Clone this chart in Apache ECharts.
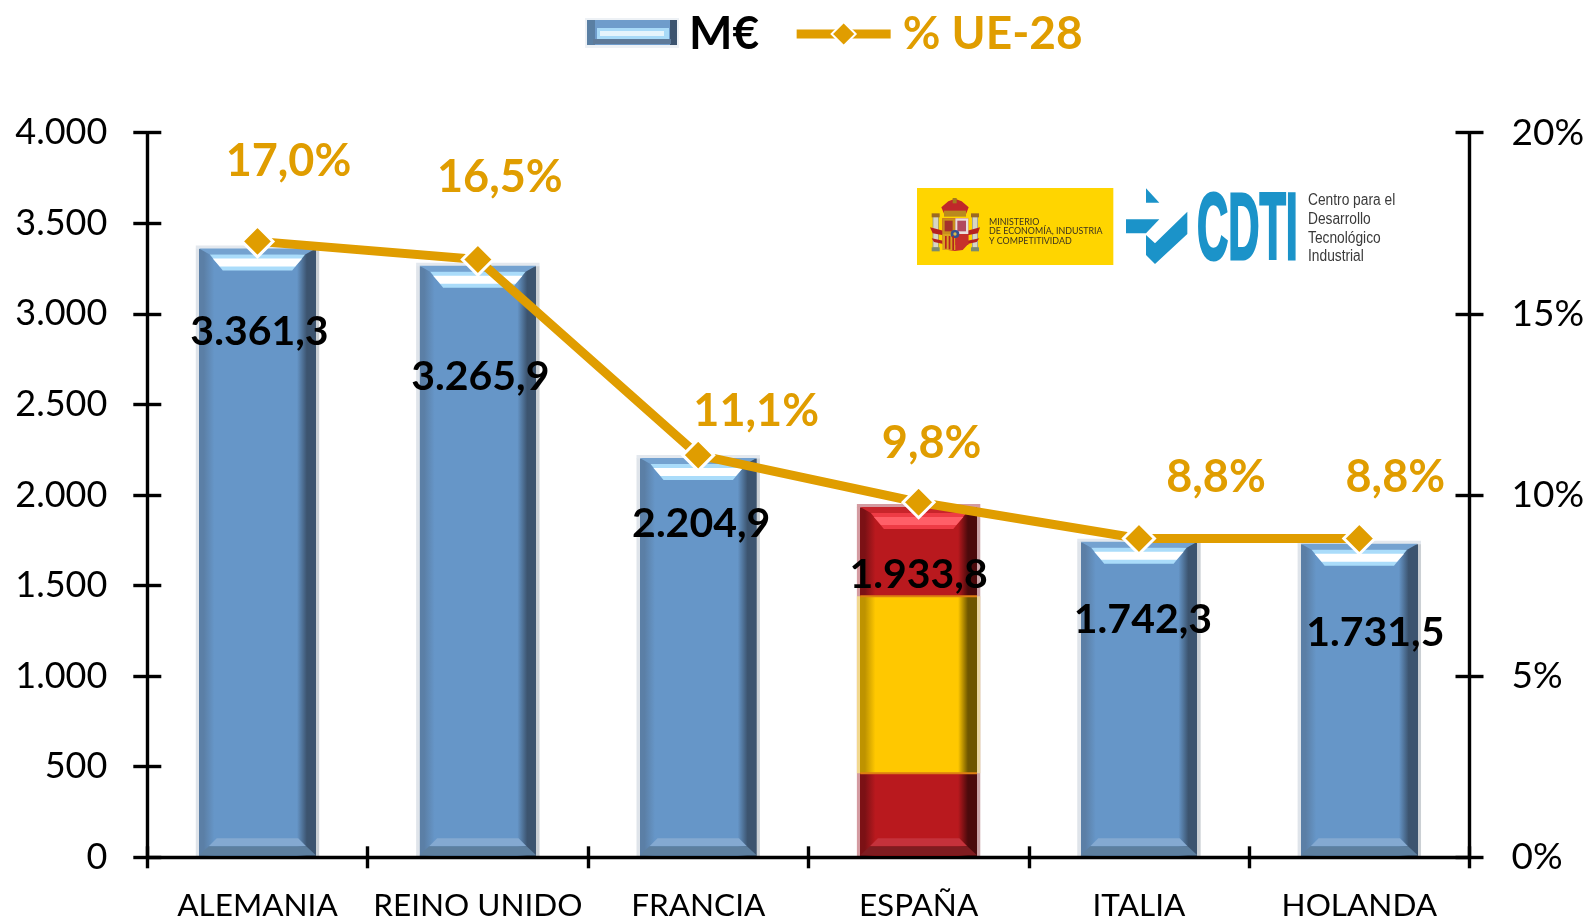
<!DOCTYPE html>
<html><head><meta charset="utf-8">
<style>html,body{margin:0;padding:0;background:#fff}#c{width:1589px;height:921px}</style>
<script src="https://cdn.jsdelivr.net/npm/echarts@6/dist/echarts.min.js"></script>
</head><body><div id="c"></div>
<script>
const categories = ['ALEMANIA','REINO UNIDO','FRANCIA','ESPAÑA','ITALIA','HOLANDA'];
const millions = [3361.3,3265.9,2204.9,1933.8,1742.3,1731.5];
const shares = [17.0,16.5,11.1,9.8,8.8,8.8];
const leftTicks = [0,500,1000,1500,2000,2500,3000,3500,4000];
const flagBand = [0.24,0.745];
const highlightIndex = 3;
const barLabelShift = [[2,83],[2.5,111],[3,66],[0,68],[4,78],[16,89]];
const lineLabelShift = [[31,-80],[22,-82],[58,-44],[13,-59],[77,-61],[36,-61]];

const GOLD='#E09D00', FONT='Lato', NARROW='"Liberation Sans"';
const G=(stops)=>new echarts.graphic.LinearGradient(0,0,1,0,stops.map(s=>({offset:s[0],color:s[1]})));
function side(pl,dl,body,dr,pr){return G([[0,pl],[.027,pl],[.028,dl],[.065,dl],[.15,body],[.82,body],[.90,dr],[.972,dr],[.973,pr],[1,pr]]);}
const blueSide=side('#DFE4EA','#5B7FA6','#6696C8','#3C546F','#CBD0D4');
const redSide=side('#D49BA1','#7C1115','#B9191E','#4B0A0C','#C9A3A8');
const yellowSide=side('#F2D88E','#BE9300','#FFC800','#6E5600','#E9D6A2');
const fmtNum=v=>{const p=v.toFixed(1).split('.');return p[0].replace(/\B(?=(\d{3})+$)/g,'.')+','+p[1];};

function renderBevel(params,api){
  const i=api.value(0),val=api.value(1),top=api.coord([i,val]),base=api.coord([i,0]);
  const w=api.size([1,0])[0]*0.56,l=top[0]-w/2,r=top[0]+w/2,y=top[1],y0=base[1];
  const red=i===highlightIndex;
  const c=red?{pale:'#D49BA1',rim:'#C8252B',hl:'#EE3B45',wh:'#FF5F68',bl:'#C5323B',bd:'#7F1C20'}
             :{pale:'#E3E8EE',rim:'#74A2D0',hl:'#AADCFA',wh:'#FFFFFF',bl:'#84A9D1',bd:'#5D7F9F'};
  const poly=(pts,fill)=>({type:'polygon',shape:{points:pts},style:{fill}});
  const kids=[];
  kids.push({type:'rect',shape:{x:l,y:y-3,width:w,height:3.5},style:{fill:c.pale}});
  kids.push(poly([[l+3.3,y],[r-3.3,y],[r-14,y+6],[l+14,y+6]],c.rim));
  kids.push(poly([[l+14,y+6],[r-14,y+6],[r-27,y+22],[l+27,y+22]],c.hl));
  kids.push(poly([[l+17,y+10],[r-17,y+10],[r-24,y+18],[l+24,y+18]],c.wh));
  kids.push(poly([[l+21,y0-19],[r-21,y0-19],[r-13,y0-11],[l+13,y0-11]],c.bl));
  kids.push(poly([[l+13,y0-11],[r-13,y0-11],[r-3.3,y0-2],[l+3.3,y0-2]],c.bd));
  if(red){
    const a=api.coord([i,val*flagBand[0]])[1],b=api.coord([i,val*flagBand[1]])[1];
    kids.push({type:'rect',shape:{x:l,y:b,width:w,height:a-b},style:{fill:yellowSide}});
    kids.push({type:'rect',shape:{x:l+3.3,y:b-1,width:w-6.6,height:2},style:{fill:'#DE7F12'}});
    kids.push({type:'rect',shape:{x:l+3.3,y:a-1,width:w-6.6,height:2},style:{fill:'#DE7F12'}});
  }
  const s=barLabelShift[i];
  kids.push({type:'text',style:{text:fmtNum(val),x:top[0]+s[0],y:y+s[1],align:'center',verticalAlign:'middle',font:'bold 41px '+FONT,fill:'#000'}});
  return {type:'group',children:kids};
}

/* logo helpers: coordinates measured in the logo's own space */
const lx=X=>900+X/3, ly=Y=>170+Y/3;
const poly=(pts,fill)=>({type:'polygon',shape:{points:pts.map(p=>[lx(p[0]),ly(p[1])])},style:{fill},z:50});
const box=(X0,Y0,X1,Y1,fill,r)=>({type:'rect',shape:{x:lx(X0),y:ly(Y0),width:(X1-X0)/3,height:(Y1-Y0)/3,r:r||0},style:{fill},z:50});
const txt=(t,x,y,font,fill,extra)=>Object.assign({type:'text',x,y,style:{text:t,font,fill,verticalAlign:'middle'},z:51},extra||{});
const logo=[
  box(51,54,640,285,'#FFD500'),
  // coat of arms
  box(98,135,116,242,'#8A8F80'),box(216,135,234,242,'#8A8F80'),
  box(100,140,114,232,'#D8D6C4'),box(218,140,232,232,'#D8D6C4'),
  box(95,232,119,244,'#7C8A6E'),box(213,232,237,244,'#7C8A6E'),
  box(95,130,119,142,'#9C6A22'),box(213,130,237,142,'#9C6A22'),
  poly([[90,172],[130,182],[130,196],[98,190]],'#B5221F'),poly([[240,172],[202,182],[202,196],[234,190]],'#B5221F'),
  poly([[95,205],[130,212],[130,222],[102,216]],'#B5221F'),poly([[238,205],[202,212],[202,222],[230,216]],'#B5221F'),
  poly([[124,112],[145,94],[165,86],[185,94],[206,112],[196,138],[135,138]],'#C0282A'),
  box(132,122,198,140,'#B98A1E'),box(158,84,170,100,'#A37A1E'),
  poly([[127,145],[205,145],[205,222],[188,240],[165,243],[144,240],[127,222]],'#C6302B'),
  box(127,145,166,192,'#C9901C'),box(166,145,205,192,'#E8DEDC'),
  box(127,192,166,240,'#D9A21E'),box(166,192,205,225,'#C6302B'),
  box(172,152,198,184,'#B2495E'),box(134,152,158,184,'#A5332B'),
  box(152,180,178,204,'#34508F',12),box(160,187,170,197,'#D8B84A',5),
  box(135,198,140,236,'#B5221F'),box(146,198,151,238,'#B5221F'),box(157,198,162,240,'#B5221F'),
  // ministry text
  txt('MINISTERIO',989,221.8,'8.9px '+FONT,'#3C3320'),
  txt('DE ECONOMÍA, INDUSTRIA',989,231.2,'8.9px '+FONT,'#3C3320'),
  txt('Y COMPETITIVIDAD',989,240.8,'8.9px '+FONT,'#3C3320'),
  // CDTI mark
  poly([[738,55],[778,98],[738,98]],'#1B93C9'),
  poly([[678,148],[778,148],[738,190],[678,190]],'#1B93C9'),
  poly([[738,195],[765,220],[862,125],[862,192],[765,282],[738,255]],'#1B93C9'),
  {type:'text',x:1197,y:233,scaleX:0.46,style:{text:'CDTI',font:'bold 94px '+NARROW,fill:'#1B93C9',stroke:'#1B93C9',lineWidth:3,verticalAlign:'middle'},z:51},
  txt('Centro para el',1308,201,'16px '+NARROW,'#3A3A3A',{scaleX:.86}),
  txt('Desarrollo',1308,219.5,'16px '+NARROW,'#3A3A3A',{scaleX:.86}),
  txt('Tecnológico',1308,238.5,'16px '+NARROW,'#3A3A3A',{scaleX:.86}),
  txt('Industrial',1308,256.5,'16px '+NARROW,'#3A3A3A',{scaleX:.86})
];
const rc=(x,y,w,h,fill)=>({type:'rect',shape:{x,y,width:w,height:h},style:{fill},z:60});
const legendBevel=[
  rc(585,18,94,30,'#EDF1F5'),rc(587,20,90,25,'#6F9CCB'),
  rc(587,20,8,25,'#5A7FA3'),rc(670,20,7,25,'#3C546F'),
  rc(597,28,72,11,'#A9DAF8'),rc(600,31,64,5,'#E6F4FC'),
  rc(593,39,78,5,'#5E7A99')
];

const yBase={type:'value',min:0,max:4000,interval:500,splitLine:{show:false},z:5};
const yBase2={type:'value',min:0,max:20,interval:5,splitLine:{show:false},z:5};
const lineSty={show:true,lineStyle:{color:'#000',width:3.4}};
const tickOut=(len)=>({show:true,length:len,inside:false,lineStyle:{color:'#000',width:3.4}});
const tickIn=(len)=>({show:true,length:len,inside:true,lineStyle:{color:'#000',width:3.4}});
const option={
  animation:false,
  textStyle:{fontFamily:FONT},
  grid:{left:147.3,right:119.5,top:132.7,bottom:63.7,containLabel:false,outerBoundsMode:'none'},
  legend:{left:585,top:6,itemWidth:94,itemHeight:30,itemGap:33,selectedMode:false,
    lineStyle:{width:9},
    textStyle:{fontFamily:FONT,fontWeight:'bold',fontSize:46},
    data:[{name:'M€',textStyle:{color:'#000',padding:[0,0,0,0]},itemStyle:{color:'rgba(0,0,0,0)'}},
          {name:'% UE-28',textStyle:{color:GOLD,padding:[0,0,0,7]}}]},
  xAxis:[
    {type:'category',data:categories,axisLine:lineSty,axisTick:tickOut(11),z:5,
      axisLabel:{color:'#000',fontSize:31.5,margin:33,interval:0,fontFamily:FONT}},
    {type:'category',data:categories,position:'bottom',axisLine:{show:false},axisTick:tickIn(11),axisLabel:{show:false},z:5}
  ],
  yAxis:[
    Object.assign({},yBase,{position:'left',axisLine:lineSty,axisTick:tickOut(14),
      axisLabel:{color:'#000',fontSize:36,margin:40,padding:[2,0,0,0],fontFamily:FONT,formatter:v=>leftTicks.includes(v)?(v>=1000?String(v).replace(/\B(?=(\d{3})+$)/g,'.'):String(v)):''}}),
    Object.assign({},yBase2,{position:'right',axisLine:lineSty,axisTick:tickOut(14),
      axisLabel:{color:'#000',fontSize:37,margin:42,padding:[2,0,0,0],fontFamily:FONT,formatter:v=>v+'%'}}),
    Object.assign({},yBase,{position:'left',axisLine:{show:false},axisTick:tickIn(14),axisLabel:{show:false}}),
    Object.assign({},yBase2,{position:'right',axisLine:{show:false},axisTick:tickIn(14),axisLabel:{show:false}})
  ],
  series:[
    {name:'M€',type:'bar',yAxisIndex:0,xAxisIndex:0,barWidth:'56%',z:2,
      data:millions.map((v,i)=>({value:v,itemStyle:{color:i===highlightIndex?redSide:blueSide}}))},
    {name:'bevel',type:'custom',yAxisIndex:0,xAxisIndex:0,z:3,renderItem:renderBevel,
      encode:{x:0,y:1},data:millions.map((v,i)=>[i,v])},
    {name:'% UE-28',type:'line',yAxisIndex:1,xAxisIndex:0,z:10,symbol:'diamond',symbolSize:31,
      lineStyle:{color:GOLD,width:9},itemStyle:{color:GOLD,borderColor:'#fff',borderWidth:3},
      data:shares.map((v,i)=>({value:v,label:{offset:lineLabelShift[i]}})),
      label:{show:true,position:'inside',color:GOLD,fontFamily:FONT,fontWeight:'bold',fontSize:45,
        formatter:p=>p.value.toFixed(1).replace('.',',')+'%'}}
  ],
  graphic:{elements:logo.concat(legendBevel)}
};
const chart=echarts.init(document.getElementById('c'),null,{renderer:'canvas',width:1589,height:921});
chart.setOption(option);
</script></body></html>
